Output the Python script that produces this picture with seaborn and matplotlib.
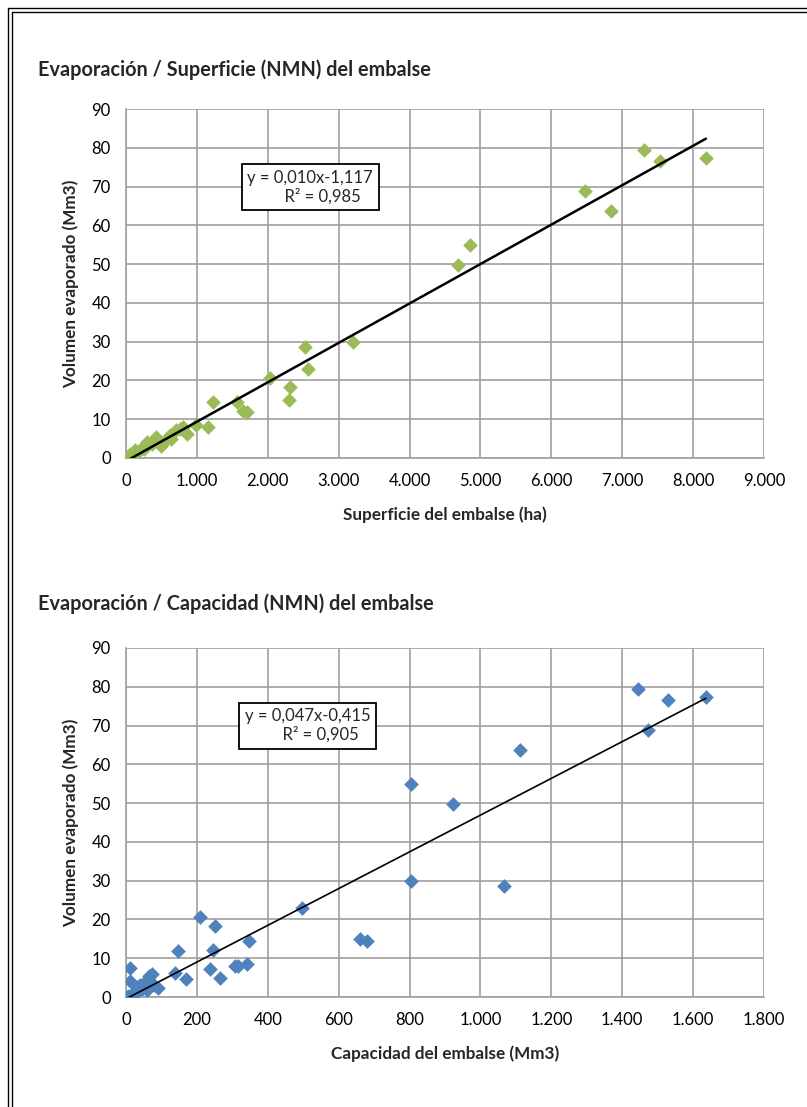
import numpy as np
import pandas as pd
import seaborn as sns
import matplotlib
matplotlib.use('Agg')
import matplotlib.pyplot as plt
from matplotlib.ticker import FuncFormatter, MultipleLocator
from matplotlib.lines import Line2D

# Datos (un embalse por posicion)
superficie = [8180, 7310, 7530, 6470, 6840, 4850, 4680, 3200, 2525, 2570, 2030,
              2310, 2300, 1230, 1570, 1650, 1700,
              985, 1150, 805, 760, 700, 860, 620, 640, 560, 430, 300, 360, 500,
              280, 230, 260, 130, 180, 120, 60, 100, 10]
capacidad = [1636, 1444, 1529, 1473, 1111, 804, 922, 804, 1066, 496, 209,
             251, 660, 348, 679, 246, 148,
             340, 307, 317, 11, 237, 138, 72, 265, 168, 65, 11, 50, 80,
             40, 30, 91, 45, 58, 35, 20, 25, 5]
evaporacion = [77.3, 79.4, 76.5, 68.8, 63.6, 54.9, 49.7, 29.9, 28.5, 23.0, 20.6,
               18.2, 15.0, 14.4, 14.5, 12.2, 11.8,
               8.6, 8.0, 7.9, 7.6, 7.2, 6.3, 6.0, 5.0, 4.6, 5.3, 4.0, 3.6, 3.2,
               3.0, 2.6, 2.4, 2.0, 1.7, 1.5, 1.1, 0.7, 0.3]

titulos = ['Evaporación / Superficie (NMN) del embalse',
           'Evaporación / Capacidad (NMN) del embalse']
etiquetas_x = ['Superficie del embalse (ha)', 'Capacidad del embalse (Mm3)']
ecuaciones = ['y = 0,010x-1,117\n      R² = 0,985', 'y = 0,047x-0,415\n      R² = 0,905']

df = pd.DataFrame({'sup': superficie, 'cap': capacidad, 'evap': evaporacion})

sns.set_style('white')
plt.rcParams['font.family'] = ['Lato', 'DejaVu Sans']

fig = plt.figure(figsize=(8.07, 11.07), dpi=100)

# doble borde de pagina
W, H = 807, 1107
for off in (8, 12):
    fig.add_artist(Line2D([off / W, off / W], [0, 1 - off / H], color='black', lw=1.0))
    fig.add_artist(Line2D([off / W, 1], [1 - off / H, 1 - off / H], color='black', lw=1.0))

def miles(v, pos):
    return f'{int(round(v)):,}'.replace(',', '.')

config = [
    # columna, color, xmax, paso, caja (x, y), grosor linea, top px, titulo px
    ('sup', '#9BBB59', 9000, 1000, (2600, 69.8), 1.8, 109, 70),
    ('cap', '#4F81BD', 1800, 200, (512, 70.0), 1.2, 648, 604),
]

for i, (col, color, xmax, paso, caja, lw, top, ty) in enumerate(config):
    bottom = top + 349
    ax = fig.add_axes([126 / W, 1 - bottom / H, 638 / W, 349 / H])
    sns.regplot(data=df, x=col, y='evap', ax=ax, ci=None, marker='D',
                scatter_kws={'s': 56, 'color': color, 'linewidths': 0, 'alpha': 1, 'zorder': 3},
                line_kws={'color': 'black', 'lw': lw, 'zorder': 4})
    ax.set_xlim(0, xmax)
    ax.set_ylim(0, 90)
    ax.xaxis.set_major_locator(MultipleLocator(paso))
    ax.yaxis.set_major_locator(MultipleLocator(10))
    ax.xaxis.set_major_formatter(FuncFormatter(miles))
    ax.grid(True, color='#a0a0a0', lw=1.2, zorder=0)
    ax.set_axisbelow(True)
    for s in ax.spines.values():
        s.set_visible(False)
    ax.spines['left'].set_visible(True)
    ax.spines['bottom'].set_visible(True)
    ax.spines['left'].set_color('#a0a0a0')
    ax.spines['bottom'].set_color('#a0a0a0')
    ax.spines['left'].set_linewidth(1.2)
    ax.spines['bottom'].set_linewidth(1.2)
    ax.tick_params(axis='both', direction='out', length=5, width=1.2, color='#a0a0a0',
                   labelsize=12, labelcolor='black', pad=6)
    ax.set_xlabel(etiquetas_x[i], fontsize=12.3, fontweight='bold', labelpad=12)
    ax.set_ylabel('Volumen evaporado (Mm3)', fontsize=12.3, fontweight='bold', labelpad=9)
    ax.text(caja[0], caja[1], ecuaciones[i], fontsize=12, ha='center', va='center',
            linespacing=1.15, zorder=5,
            bbox=dict(boxstyle='square,pad=0.35', fc='white', ec='black', lw=1.3))
    fig.text(38 / W, 1 - ty / H, titulos[i], fontsize=14.3, fontweight='bold',
             ha='left', va='center')

fig.savefig('out.png', dpi=100)
